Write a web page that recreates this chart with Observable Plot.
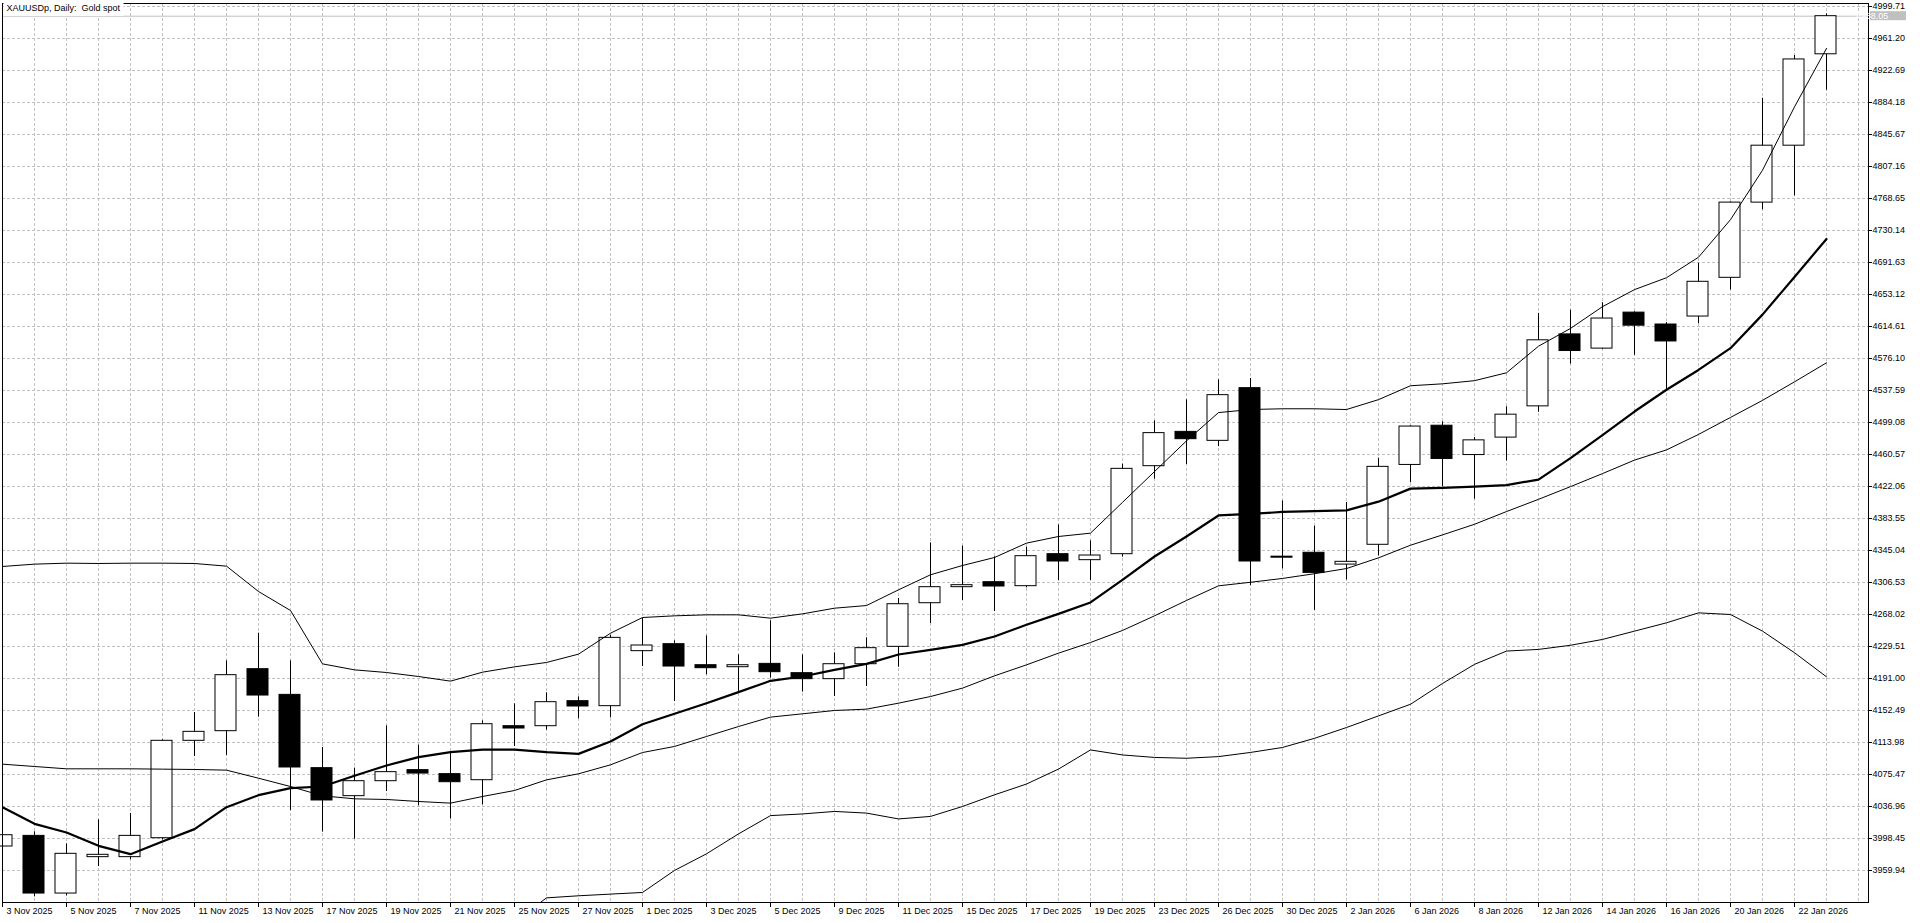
<!DOCTYPE html>
<html><head><meta charset="utf-8">
<script src="https://cdn.jsdelivr.net/npm/d3@7"></script>
<script src="https://cdn.jsdelivr.net/npm/@observablehq/plot@0.6"></script>
<style>
html,body{margin:0;padding:0;background:#fff;}
#chart{width:1920px;height:923px;overflow:hidden;}
svg{display:block;}
</style></head><body><div id="chart"></div>
<script>
const title = "XAUUSDp, Daily:  Gold spot";

const dates = [
  "3 Nov 2025","4 Nov 2025","5 Nov 2025","6 Nov 2025","7 Nov 2025",
  "10 Nov 2025","11 Nov 2025","12 Nov 2025","13 Nov 2025","14 Nov 2025",
  "17 Nov 2025","18 Nov 2025","19 Nov 2025","20 Nov 2025","21 Nov 2025",
  "24 Nov 2025","25 Nov 2025","26 Nov 2025","27 Nov 2025","28 Nov 2025",
  "1 Dec 2025","2 Dec 2025","3 Dec 2025","4 Dec 2025","5 Dec 2025",
  "8 Dec 2025","9 Dec 2025","10 Dec 2025","11 Dec 2025","12 Dec 2025",
  "15 Dec 2025","16 Dec 2025","17 Dec 2025","18 Dec 2025","19 Dec 2025",
  "22 Dec 2025","23 Dec 2025","24 Dec 2025","26 Dec 2025",
  "29 Dec 2025","30 Dec 2025","31 Dec 2025","2 Jan 2026",
  "5 Jan 2026","6 Jan 2026","7 Jan 2026","8 Jan 2026","9 Jan 2026",
  "12 Jan 2026","13 Jan 2026","14 Jan 2026","15 Jan 2026","16 Jan 2026",
  "19 Jan 2026","20 Jan 2026","21 Jan 2026","22 Jan 2026","23 Jan 2026"
];

const open = [
  3988.8,4001.6,3932.2,3976.0,3976.0,3998.8,4116.0,4127.6,4202.2,4171.3,
  4083.1,4049.4,4067.4,4080.7,4075.9,4068.6,4133.6,4133.6,4163.7,4157.7,
  4223.9,4232.3,4207.0,4204.6,4208.6,4197.4,4190.2,4208.2,4229.1,4281.6,
  4300.9,4306.9,4302.1,4340.6,4333.4,4340.6,4446.5,4487.8,4477.0,4540.4,
  4337.6,4342.3,4328.1,4351.9,4448.0,4495.2,4459.9,4480.9,4518.5,4605.1,
  4588.0,4631.3,4617.0,4626.6,4673.2,4763.7,4832.2,4942.2
];
const high = [
  4030.0,4006.5,3992.0,4020.9,4028.5,4117.2,4150.1,4212.3,4245.5,4212.3,
  4107.9,4083.1,4134.0,4110.8,4102.3,4140.0,4160.5,4173.8,4168.9,4243.0,
  4263.6,4236.3,4242.3,4219.5,4260.4,4219.5,4221.9,4239.9,4287.3,4354.3,
  4350.3,4337.4,4349.1,4375.9,4356.7,4448.9,4501.1,4526.4,4550.4,4552.0,
  4404.7,4374.3,4402.8,4456.1,4495.2,4499.9,4480.9,4518.0,4630.4,4634.2,
  4643.2,4632.3,4619.4,4690.8,4764.6,4889.3,4940.7,4990.7
];
const low = [
  3975.0,3928.2,3929.4,3964.7,3972.8,3996.8,4097.1,4098.3,4144.5,4032.1,
  4006.1,3997.6,4055.0,4037.8,4022.1,4039.0,4109.2,4128.8,4142.5,4143.7,
  4205.4,4163.3,4195.4,4174.6,4191.4,4174.6,4169.3,4181.4,4204.6,4257.2,
  4284.9,4271.6,4300.1,4308.9,4308.9,4337.0,4430.9,4448.5,4470.0,4302.9,
  4322.9,4273.0,4309.5,4338.5,4426.6,4421.9,4406.6,4452.8,4511.4,4569.4,
  4587.0,4579.9,4538.5,4618.0,4658.5,4755.1,4771.7,4898.8
];
const close = [
  4002.4,3932.2,3980.0,3978.8,4001.6,4116.0,4126.8,4195.0,4170.5,4083.9,
  4044.2,4067.4,4078.3,4076.6,4066.2,4136.0,4130.8,4162.5,4157.3,4239.9,
  4230.7,4205.4,4203.4,4207.0,4198.6,4190.2,4208.2,4227.5,4280.4,4300.9,
  4303.3,4301.7,4338.2,4331.8,4339.0,4443.3,4486.3,4479.0,4532.0,4331.8,
  4336.4,4318.1,4331.4,4445.7,4494.2,4455.2,4477.6,4508.5,4598.0,4585.1,
  4624.2,4615.6,4596.6,4668.4,4763.7,4832.2,4936.0,4988.05
];

const upperBand = [
  4325.8,4328.6,4329.8,4329.4,4329.8,4329.8,4329.4,4326.2,4295.7,4272.8,
  4208.6,4201.4,4198.2,4193.4,4187.8,4198.6,4205.0,4210.3,4220.3,4245.5,
  4264.4,4266.4,4267.6,4267.6,4263.6,4268.8,4275.6,4278.8,4297.7,4315.8,
  4327.0,4336.6,4353.9,4361.9,4365.9,4403.0,4440.0,4477.0,4511.0,4514.7,
  4515.6,4515.6,4514.7,4526.6,4543.3,4545.6,4549.4,4558.9,4590.9,4612.3,
  4638.5,4659.0,4673.3,4698.0,4743.2,4802.7,4878.9,4949.3
];
const middleLine = [
  4036.1,4016.1,4005.7,3989.6,3979.6,3994.8,4009.7,4036.1,4050.6,4059.0,
  4061.0,4073.9,4086.3,4096.3,4102.3,4105.5,4105.5,4102.3,4100.3,4115.2,
  4136.0,4148.5,4161.3,4174.6,4188.2,4193.4,4201.4,4208.6,4219.9,4225.5,
  4231.5,4241.5,4255.6,4268.8,4282.5,4309.7,4337.8,4361.9,4387.2,4389.0,
  4391.4,4392.4,4393.3,4403.8,4419.5,4420.4,4421.9,4423.8,4430.4,4456.1,
  4483.8,4512.3,4538.5,4562.3,4588.5,4628.9,4674.2,4719.9
];
const lowerBand = [
  4087.9,4085.1,4082.3,4082.3,4082.3,4081.9,4081.5,4080.7,4071.0,4061.0,
  4049.8,4046.2,4045.4,4043.0,4041.0,4049.0,4056.2,4069.0,4076.3,4087.1,
  4101.9,4109.2,4121.2,4133.2,4144.5,4148.5,4152.5,4154.1,4161.3,4169.3,
  4179.4,4194.2,4207.4,4221.5,4234.3,4248.8,4266.4,4284.9,4302.5,4306.8,
  4311.4,4317.1,4323.3,4336.2,4351.4,4363.8,4376.6,4391.9,4406.6,4421.9,
  4437.6,4453.8,4466.1,4484.7,4505.2,4525.7,4548.0,4570.9
];
const bottomLine = [
  null,null,null,null,null,null,null,null,null,null,
  null,null,null,null,null,null,3898.0,3927.0,3929.5,3931.5,
  3933.5,3960.0,3980.0,4004.0,4026.0,4028.0,4031.0,4029.0,4022.0,4025.0,
  4037.0,4051.0,4064.0,4082.0,4105.0,4099.0,4096.0,4095.0,4097.0,4102.0,
  4108.0,4119.0,4132.0,4146.0,4160.0,4185.0,4208.0,4224.0,4226.0,4231.0,
  4238.0,4248.0,4258.0,4270.0,4268.0,4248.0,4222.0,4193.0
];

const yTickValues = [
  4999.71,4961.20,4922.69,4884.18,4845.67,4807.16,4768.65,4730.14,4691.63,4653.12,
  4614.61,4576.10,4537.59,4499.08,4460.57,4422.06,4383.55,4345.04,4306.53,4268.02,
  4229.51,4191.00,4152.49,4113.98,4075.47,4036.96,3998.45,3959.94
];

const candles = dates.map((d, i) => ({i, date: d, open: open[i], high: high[i], low: low[i], close: close[i]}));
const xTicks = d3.range(0, dates.length, 2);
const gridX = d3.range(0, dates.length + 1);
const lastPrice = close[close.length - 1];

const grid = {stroke: "#c0c0c0", strokeDasharray: "3,2", strokeWidth: 1};
const font = "'Liberation Sans', Arial, sans-serif";

const plot = Plot.plot({
  width: 1920,
  height: 923,
  marginLeft: 2,
  marginRight: 52,
  marginTop: 3,
  marginBottom: 21,
  style: {fontFamily: font, fontSize: "9px", background: "#fff", color: "#000", overflow: "visible"},
  x: {type: "linear", domain: [0, 1866 / 32]},
  y: {type: "linear", domain: [3921.42, 5003.32]},
  marks: [
    Plot.ruleX(gridX, {x: d => d, ...grid}),
    Plot.ruleY(yTickValues, {y: d => d, ...grid}),
    Plot.ruleY([lastPrice], {y: d => d, stroke: "#c0c0c0", strokeWidth: 1}),
    Plot.ruleX(candles, {x: "i", y1: "low", y2: "high", stroke: "#000", strokeWidth: 1}),
    Plot.rect(candles, {filter: d => d.close >= d.open, x1: d => d.i - 11 / 32, x2: d => d.i + 10 / 32, y1: "open", y2: "close", fill: "#fff", stroke: "#000", strokeWidth: 1}),
    Plot.rect(candles, {filter: d => d.close < d.open, x1: d => d.i - 11 / 32, x2: d => d.i + 10 / 32, y1: "open", y2: "close", fill: "#000", stroke: "#000", strokeWidth: 1}),
    Plot.line(bottomLine, {x: (d, i) => i, y: d => d, stroke: "#000", strokeWidth: 1, clip: true}),
    Plot.line(lowerBand, {x: (d, i) => i, y: d => d, stroke: "#000", strokeWidth: 1, clip: true}),
    Plot.line(upperBand, {x: (d, i) => i, y: d => d, stroke: "#000", strokeWidth: 1, clip: true}),
    Plot.line(middleLine, {x: (d, i) => i, y: d => d, stroke: "#000", strokeWidth: 2.2, clip: true}),
    Plot.frame({stroke: "#000", strokeWidth: 1}),
    Plot.axisY(yTickValues, {anchor: "right", tickFormat: d => d.toFixed(2), tickSize: 3, tickPadding: 1, label: null, fontSize: 9, fill: "#000", stroke: "#000"}),
    Plot.axisX(xTicks, {anchor: "bottom", tickFormat: () => "", tickSize: 5, label: null, stroke: "#000"}),
    Plot.text(xTicks, {x: d => d, frameAnchor: "bottom", text: i => dates[i], dx: 4, dy: 5, textAnchor: "start", lineAnchor: "top", fontSize: 9, fill: "#000"}),
    Plot.text([title], {frameAnchor: "top-left", dx: 4, dy: 1, lineAnchor: "top", textAnchor: "start", fontSize: 9, fill: "#000"})
  ]
});

document.getElementById("chart").append(plot);

// white background behind the title, as in the terminal window
const svg = plot.tagName === "svg" ? plot : plot.querySelector("svg");
const svgRect = svg.getBoundingClientRect();
const titleNode = Array.from(svg.querySelectorAll("text")).find(t => t.textContent === title);
if (titleNode) {
  const tb = titleNode.getBoundingClientRect();
  const g = titleNode.parentNode;
  const r = document.createElementNS("http://www.w3.org/2000/svg", "rect");
  r.setAttribute("x", tb.left - svgRect.left - 3);
  r.setAttribute("y", 3);
  r.setAttribute("width", tb.width + 6);
  r.setAttribute("height", 13);
  r.setAttribute("fill", "#fff");
  g.parentNode.insertBefore(r, g);
}

// current price label on the right scale
const yScale = plot.scale("y");
const py = yScale.apply(lastPrice);
const xRight = 1920 - 52;
const lab = d3.select(svg).append("g");
lab.append("rect")
  .attr("x", xRight + 2).attr("y", py - 4.5)
  .attr("width", 36).attr("height", 9)
  .attr("fill", "#c0c0c0");
lab.append("text")
  .attr("x", xRight + 4).attr("y", py)
  .attr("dy", "0.35em")
  .attr("fill", "#fff")
  .attr("font-family", font)
  .attr("font-size", 9)
  .text(lastPrice.toFixed(2));
</script>
</body></html>
